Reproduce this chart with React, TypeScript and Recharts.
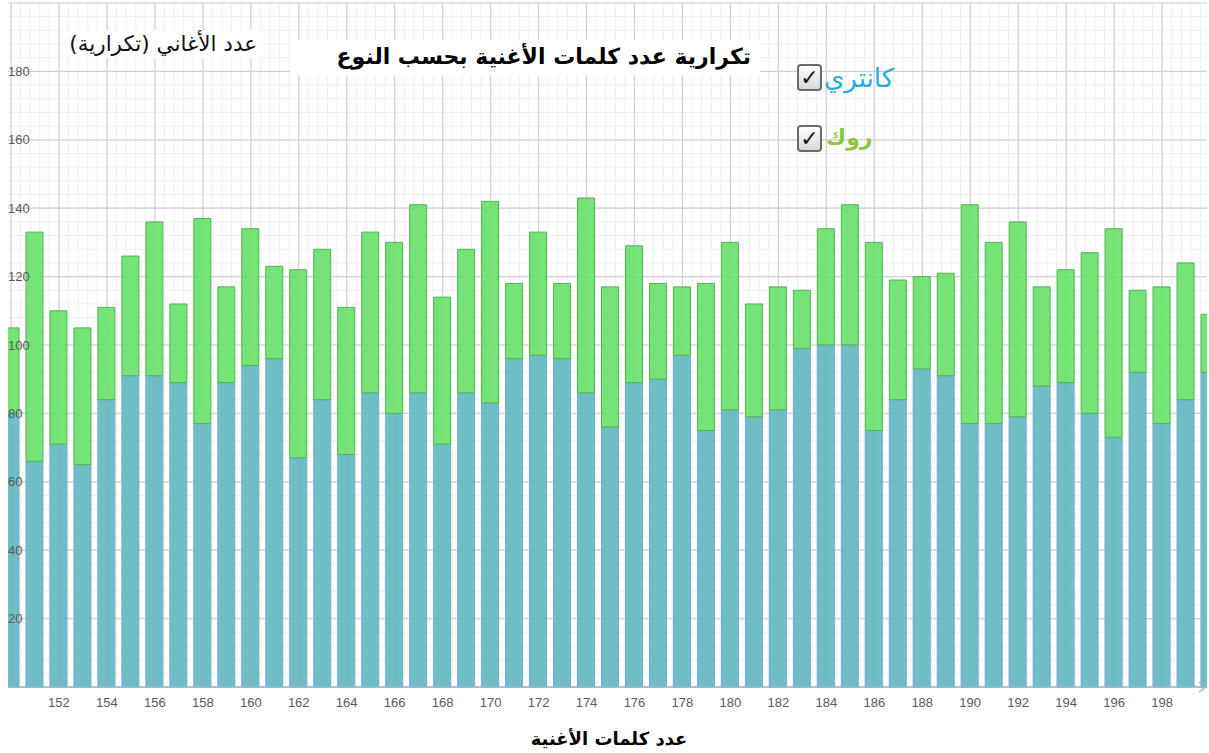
import React from 'react';
import { BarChart, Bar, XAxis, YAxis, CartesianGrid } from 'recharts';

const categories = [150,151,152,153,154,155,156,157,158,159,160,161,162,163,164,165,166,167,168,169,170,171,172,173,174,175,176,177,178,179,180,181,182,183,184,185,186,187,188,189,190,191,192,193,194,195,196,197,198,199,200];
const countryValues = [80,66,71,65,84,91,91,89,77,89,94,96,67,84,68,86,80,86,71,86,83,96,97,96,86,76,89,90,97,75,81,79,81,99,100,100,75,84,93,91,77,77,79,88,89,80,73,92,77,84,92];
const rockValues = [25,67,39,40,27,35,45,23,60,28,40,27,55,44,43,47,50,55,43,42,59,22,36,22,57,41,40,28,20,43,49,33,36,17,34,41,55,35,27,30,64,53,57,29,33,47,61,24,40,40,17];
const seriesNames = ['كانتري', 'روك'];
const xTickLabels = [152,154,156,158,160,162,164,166,168,170,172,174,176,178,180,182,184,186,188,190,192,194,196,198];
const yTickLabels = [20,40,60,80,100,120,140,160,180];
const chartTitle = 'تكرارية عدد كلمات الأغنية بحسب النوع';
const yTitle = 'عدد الأغاني (تكرارية)';
const xTitle = 'عدد كلمات الأغنية';

const data = categories.map((c, i) => ({ words: c, country: countryValues[i], rock: rockValues[i] }));

const Y_MAX = 200;
const xMin = categories[0] - 0.5;
const xMax = categories[categories.length - 1] + 0.5;

// grid line generators (major every 2 words / 20 songs, minor subdivisions)
const vGrid = (step: number) => ({ offset }: any) => {
  const out: number[] = [];
  const n = Math.round((xMax - xMin - 0.5) / step);
  for (let i = 0; i <= n + 1; i++) {
    const v = categories[0] + i * step - (step < 1 ? 0.4 : 0);
    out.push(offset.left + ((v - xMin) / (xMax - xMin)) * offset.width);
  }
  return out;
};
const hGrid = (step: number) => ({ offset }: any) => {
  const out: number[] = [];
  for (let v = 0; v <= Y_MAX + 0.001; v += step) {
    out.push(offset.top + offset.height - (v / Y_MAX) * offset.height);
  }
  return out;
};

const xTickSet = new Set(xTickLabels);

const XTick = (props: any) => {
  const { x, y, payload } = props;
  if (!xTickSet.has(Number(payload.value))) return null;
  return (
    <text x={x} y={y} dy="0.71em" textAnchor="middle" fill="#5a5a5a" fontSize={13} fontFamily="Liberation Sans, Arial, sans-serif">
      {payload.value}
    </text>
  );
};

const YTick = (props: any) => {
  const { y, payload } = props;
  return (
    <text x={10} y={y} dy="0.355em" textAnchor="start" fill="#5a5a5a" fontSize={13} fontFamily="Liberation Sans, Arial, sans-serif">
      {payload.value}
    </text>
  );
};

const CheckBox = () => (
  <div style={{
    width: 21, height: 23, border: '2px solid #6a6a6a', borderRadius: 4,
    background: 'linear-gradient(#ffffff, #d8d8d8)', display: 'flex', alignItems: 'center', justifyContent: 'center',
    fontFamily: 'DejaVu Sans', fontSize: 22, fontWeight: 'bold', color: '#111', lineHeight: '23px',
  }}>✓</div>
);

export default function App() {
  return (
    <div style={{ position: 'absolute', left: 0, top: 0, width: 1209, height: 753, background: '#fff', overflow: 'hidden' }}>
      <div style={{ position: 'absolute', left: 8, top: 0, width: 1199, height: 753, overflow: 'hidden' }}>
        <div style={{ position: 'absolute', left: -10, top: 0 }}>
          <BarChart width={1224} height={753} data={data} margin={{ top: 3, right: 0, left: 0, bottom: 36 }} barSize={17}>
            <CartesianGrid stroke="#efefef" strokeWidth={1}
              verticalCoordinatesGenerator={vGrid(0.4)} horizontalCoordinatesGenerator={hGrid(4)} />
            <CartesianGrid stroke="#d3ced5" strokeWidth={1.2}
              verticalCoordinatesGenerator={vGrid(2)} horizontalCoordinatesGenerator={hGrid(20)} />
            <XAxis dataKey="words" height={30} tick={<XTick />} tickSize={6} tickMargin={5} tickLine={false}
              axisLine={{ stroke: '#93b5d3', strokeWidth: 1.5 }} interval={0} />
            <YAxis domain={[0, Y_MAX]} ticks={yTickLabels} width={1} tick={<YTick />} axisLine={false} tickLine={false} />
            <Bar dataKey="country" name={seriesNames[0]} stackId="a" fill="#64b9c2" fillOpacity={0.93} stroke="#72acd4" strokeWidth={1} isAnimationActive={false} />
            <Bar dataKey="rock" name={seriesNames[1]} stackId="a" fill="#66e066" fillOpacity={0.9} stroke="#55b255" strokeWidth={1} isAnimationActive={false} />
          </BarChart>
        </div>
      </div>
      <svg style={{ position: 'absolute', left: 1198, top: 681 }} width={11} height={12}>
        <polyline points="1,1 8,6 1,11" fill="none" stroke="#93b5d3" strokeWidth={1.5} />
      </svg>
      <div style={{ position: 'absolute', left: 63, top: 30, width: 200, height: 28, background: '#fff' }} />
      <div dir="rtl" style={{ position: 'absolute', left: 50, top: 31, width: 207, textAlign: 'right', fontFamily: 'DejaVu Sans', fontSize: 21.5, color: '#111', whiteSpace: 'nowrap' }}>
        {yTitle}
      </div>
      <div style={{ position: 'absolute', left: 290, top: 40, width: 470, height: 36, background: '#fff' }} />
      <div dir="rtl" style={{ position: 'absolute', left: 300, top: 44, width: 451, textAlign: 'right', fontFamily: 'DejaVu Sans', fontWeight: 'bold', fontSize: 22, color: '#000', whiteSpace: 'nowrap' }}>
        {chartTitle}
      </div>
      <div style={{ position: 'absolute', left: 797, top: 64 }}><CheckBox /></div>
      <div dir="rtl" style={{ position: 'absolute', left: 824, top: 63, width: 76, textAlign: 'left', fontFamily: 'DejaVu Sans', fontSize: 26, color: '#29abe2', whiteSpace: 'nowrap' }}>
        {seriesNames[0]}
      </div>
      <div style={{ position: 'absolute', left: 797, top: 125 }}><CheckBox /></div>
      <div dir="rtl" style={{ position: 'absolute', left: 826, top: 125, width: 60, textAlign: 'left', fontFamily: 'DejaVu Sans', fontWeight: 'bold', fontSize: 22, color: '#8cc63f', whiteSpace: 'nowrap' }}>
        {seriesNames[1]}
      </div>
      <div dir="rtl" style={{ position: 'absolute', left: 459, top: 728, width: 300, textAlign: 'center', fontFamily: 'DejaVu Sans', fontWeight: 'bold', fontSize: 18, color: '#000', whiteSpace: 'nowrap' }}>
        {xTitle}
      </div>
    </div>
  );
}
